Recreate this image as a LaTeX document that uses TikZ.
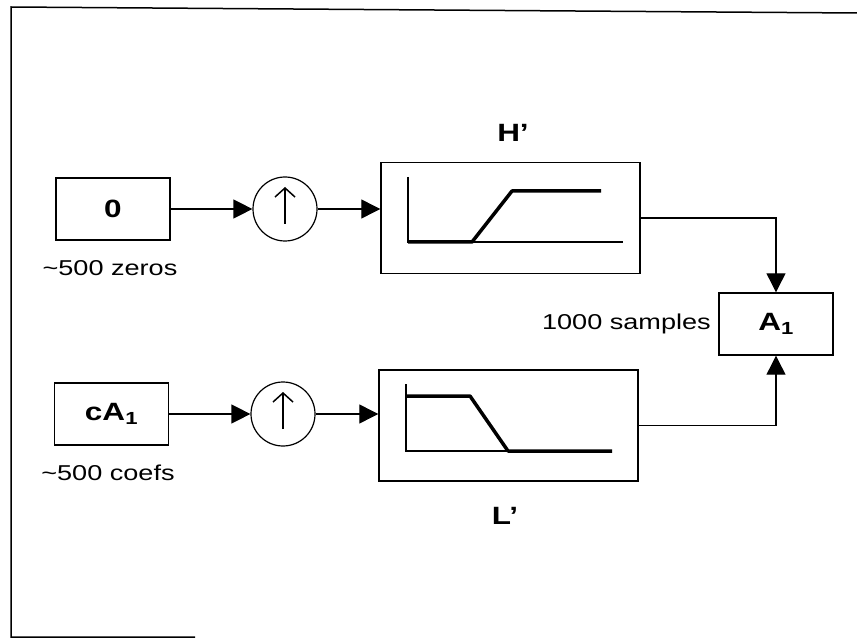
\documentclass[tikz,border=0pt]{standalone}
\usepackage{fontspec}
\setmainfont[FakeStretch=1.26]{Liberation Sans}
\usetikzlibrary{positioning, arrows.meta}

\begin{document}
\begin{tikzpicture}[x=1pt, y=-1pt,
          block/.style={rectangle, draw, line width=1.4pt, minimum width=114pt, minimum height=62pt, font=\fontsize{25}{28}\selectfont\bfseries},
          filt/.style={rectangle, draw, line width=1.4pt, minimum width=259pt, minimum height=111pt},
          upsamp/.style={circle, draw, line width=1.2pt, minimum size=64pt, inner sep=0pt},
          note/.style={font=\fontsize{21.5}{26}\selectfont},
          title/.style={font=\fontsize{25}{28}\selectfont\bfseries},
          arrow/.style={-{Triangle[length=19pt, width=19pt]}, line width=1.2pt},
          uparrow/.style={-{Straight Barb[length=9pt, width=20pt]}, line width=1.5pt},
          axis/.style={line width=1.3pt},
          resp/.style={line width=3.5pt, line join=round}
        ]
          \useasboundingbox (0,0) rectangle (857,639);

          % frame
          \draw[line width=1.5pt] (857,13) -- (11,7) -- (11,637) -- (195,637);

          % sources
          \node[block] (zero) at (113,209) {0};
          \node[block] (cA) at (111.5,414) {cA\textsubscript{1}};
          \node[note] at (110,268) {\textasciitilde500 zeros};
          \node[note] at (108,473) {\textasciitilde500 coefs};

          % upsamplers
          \node[upsamp] (up1) at (285,209) {};
          \node[upsamp] (up2) at (283,414) {};
          \draw[uparrow] ([yshift=-15pt]up1.center) -- ([yshift=22pt]up1.center);
          \draw[uparrow] ([yshift=-15pt]up2.center) -- ([yshift=22pt]up2.center);

          % filters
          \node[filt] (hfilt) at (510.5,218) {};
          \node[filt] (lfilt) at (508.5,425.5) {};
          \node[title] at (513,133) {H’};
          \node[title] at (505,516) {L’};

          % filter responses
          \draw[axis] (408,177) -- (408,242) -- (623,242);
          \draw[resp] (408,242) -- (472,242) -- (512,191) -- (601,191);
          \draw[axis] (406,384) -- (406,451) -- (612,451);
          \draw[resp] (406,396) -- (470,396) -- (508,451) -- (612,451);

          % result
          \node[block] (A1) at (776,324) {A\textsubscript{1}};
          \node[note, left=4pt of A1] {1000 samples};

          % connectors
          \draw[arrow] (zero) -- (up1);
          \draw[arrow] (up1.east) -- (up1.east -| hfilt.west);
          \draw[arrow] (cA) -- (up2);
          \draw[arrow] (up2.east) -- (up2.east -| lfilt.west);
          \draw[arrow] (hfilt.east) -| (A1.north);
          \draw[arrow] (lfilt.east) -| (A1.south);
\end{tikzpicture}
\end{document}
